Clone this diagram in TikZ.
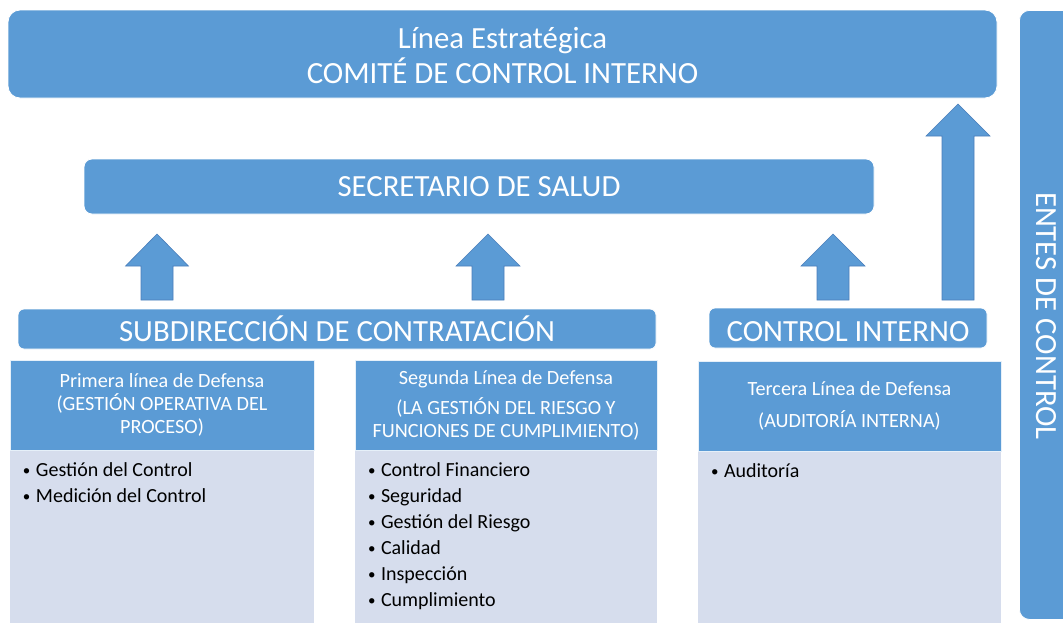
\documentclass[tikz,border=0pt]{standalone}
\usepackage{fontspec}
\setmainfont{Carlito}
\usetikzlibrary{calc}
\definecolor{ofblue}{RGB}{91,155,213}
\definecolor{arrline}{RGB}{74,126,187}
\definecolor{bodyfill}{RGB}{214,221,237}
\tikzset{
  bluebox/.style={fill=ofblue, draw=white, line width=0.8pt, text=white, inner sep=0pt, align=center},
  bigtext/.style={font=\fontsize{30.8}{35}\selectfont},
  hdrbox/.style={fill=ofblue, draw=white!85!ofblue, line width=0.8pt, text=white, inner sep=0pt, align=center, font=\fontsize{20.2}{23}\selectfont},
  bodybox/.style={fill=bodyfill, draw=none, inner sep=0pt},
  bullets/.style={anchor=north west, align=left, inner sep=0pt, font=\fontsize{20}{26}\selectfont, text=black},
  blockarrow/.style={fill=ofblue, draw=arrline, line width=0.6pt, line join=miter}
}
\newcommand\bul{\makebox[13pt][l]{\raisebox{1pt}{\fontsize{15}{15}\selectfont •}}}
\newcommand\blockarr[4]{% start, end, shaft half, head half
  \path[blockarrow] let \p1=(#1), \p2=(#2) in
    (\x1-#3pt,\y1) -- (\x1-#3pt,\y2-32pt) -- (\x1-#4pt,\y2-32pt) -- (\x2,\y2)
    -- (\x1+#4pt,\y2-32pt) -- (\x1+#3pt,\y2-32pt) -- (\x1+#3pt,\y1) -- cycle;}
\begin{document}
\begin{tikzpicture}[x=1pt,y=-1pt]
\useasboundingbox (0,0) rectangle (1063,622);
\fill[white] (0,0) rectangle (1063,622);
\begin{scope}
\clip (0,0) rectangle (1063,622);
% right bar
\node[bluebox, rounded corners=10pt, minimum width=70, minimum height=609, anchor=north west] (entes) at (1019,10) {};
\node[text=white, bigtext, rotate=-90] (entest) at (1046,316) {ENTES DE CONTROL};
% top
\node[bluebox, rounded corners=12pt, minimum width=989, minimum height=88] (top) at (502.5,54) {};
\node[text=white, bigtext, align=center] (toptext) at (502.5,56) {Línea Estratégica\\COMITÉ DE CONTROL INTERNO};
\node[bluebox, bigtext, rounded corners=8pt, minimum width=790, minimum height=55] (sec) at (479,186.5) {SECRETARIO DE SALUD};
\node[bluebox, bigtext, rounded corners=6pt, minimum width=638, minimum height=40, text height=26pt] (sub) at (337,329) {SUBDIRECCIÓN DE CONTRATACIÓN};
\node[bluebox, bigtext, rounded corners=6pt, minimum width=278, minimum height=40, text height=28pt] (ci) at (848,328) {CONTROL INTERNO};
% headers
\node[hdrbox, minimum width=304, minimum height=90] (h1) at (162,405) {Primera línea de Defensa\\(GESTIÓN OPERATIVA DEL\\PROCESO)};
\node[hdrbox, minimum width=302, minimum height=90] (h2) at (506,405) {Segunda Línea de Defensa\\[7pt](LA GESTIÓN DEL RIESGO Y\\FUNCIONES DE CUMPLIMIENTO)};
\node[hdrbox, minimum width=303, minimum height=90, font=\fontsize{20.2}{32}\selectfont] (h3) at (849.5,406) {Tercera Línea de Defensa\\(AUDITORÍA INTERNA)};
% bodies
\node[bodybox, minimum width=304, minimum height=175, anchor=north] (b1) at (h1.south) {};
\node[bodybox, minimum width=302, minimum height=175, anchor=north] (b2) at (h2.south) {};
\node[bodybox, minimum width=303, minimum height=175, anchor=north] (b3) at (h3.south) {};
\node[bullets] (l1) at ($(b1.north west)+(13,12)$) {\bul Gestión del Control\\\bul Medición del Control};
\node[bullets] (l2) at ($(b2.north west)+(13,12)$) {\bul Control Financiero\\\bul Seguridad\\\bul Gestión del Riesgo\\\bul Calidad\\\bul Inspección\\\bul Cumplimiento};
\node[bullets] (l3) at ($(b3.north west)+(13,12)$) {\bul Auditoría};
% arrows
\coordinate (a1s) at (157,300); \coordinate (a1e) at (157,234);
\coordinate (a2s) at (488,300); \coordinate (a2e) at (488,234);
\coordinate (a3s) at (833,300); \coordinate (a3e) at (833,234);
\coordinate (a4s) at (958,300); \coordinate (a4e) at (958,104);
\blockarr{a1s}{a1e}{16}{31.5}
\blockarr{a2s}{a2e}{16}{32}
\blockarr{a3s}{a3e}{16}{32}
\blockarr{a4s}{a4e}{16}{32}
\end{scope}
\end{tikzpicture}
\end{document}
